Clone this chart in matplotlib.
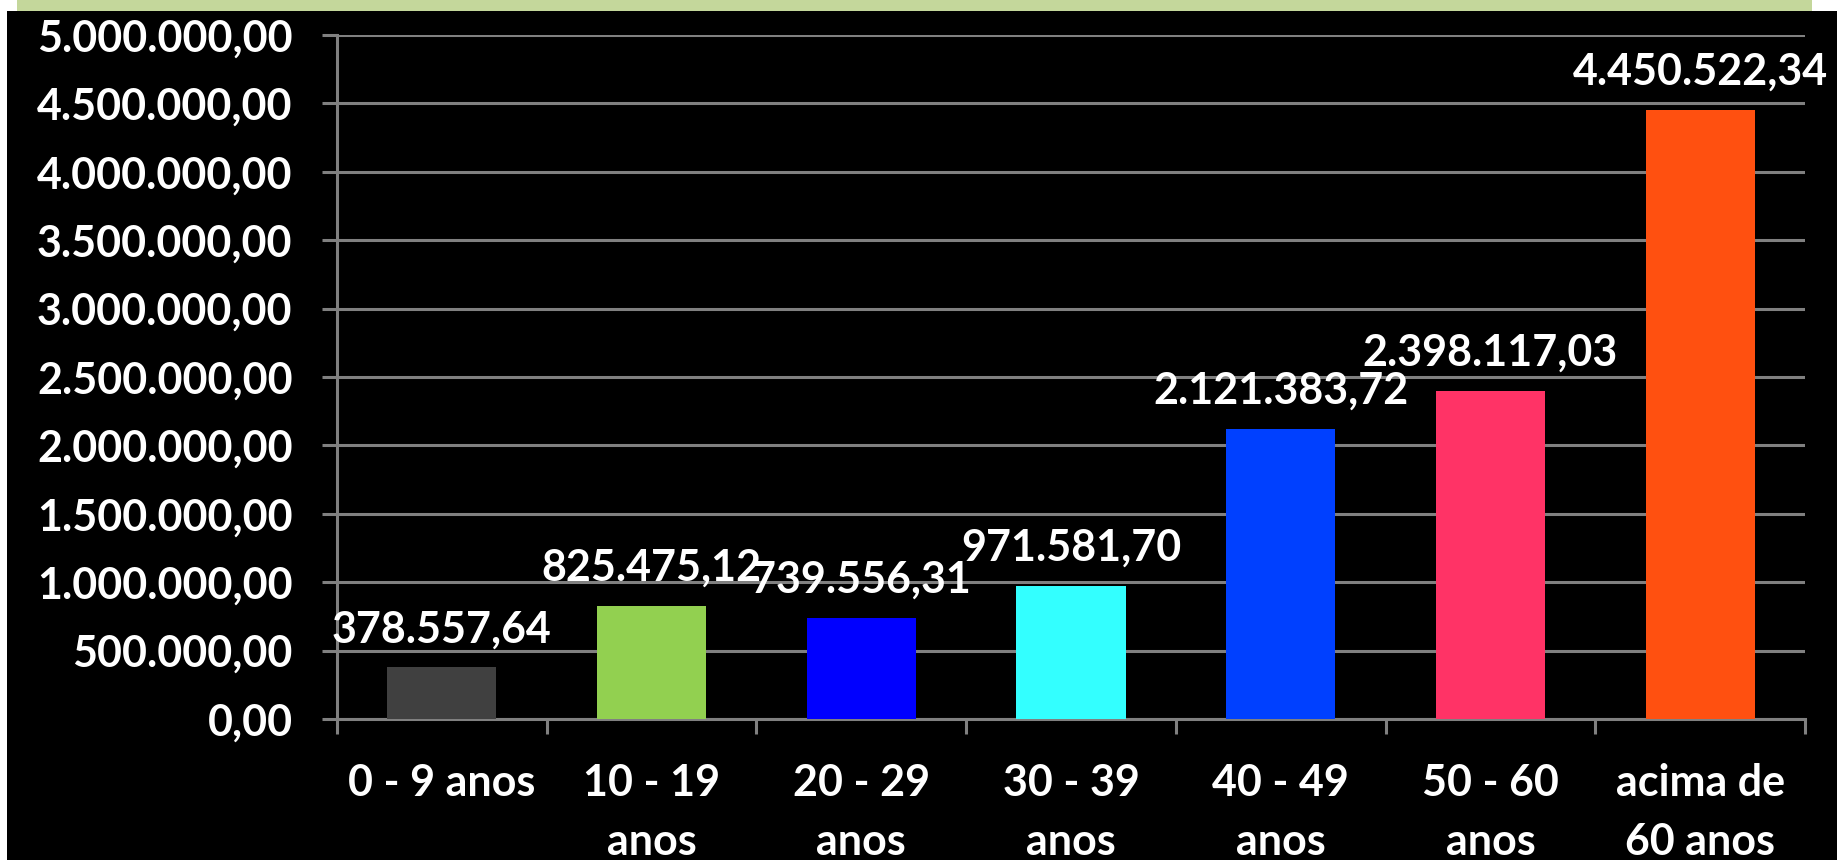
import matplotlib.pyplot as plt
from matplotlib.patches import Rectangle
import numpy as np

# dados
categorias = ['0 - 9 anos', '10 - 19\nanos', '20 - 29\nanos', '30 - 39\nanos',
              '40 - 49\nanos', '50 - 60\nanos', 'acima de\n60 anos']
valores = [378557.64, 825475.12, 739556.31, 971581.70, 2121383.72, 2398117.03, 4450522.34]
cores = ['#404040', '#92D050', '#0000FF', '#33FFFF', '#0040FF', '#FF3366', '#FF5010']
yticks = np.arange(0, 5000001, 500000)


def fmt_br(v):
    s = '{:,.2f}'.format(v)
    return s.replace(',', '#').replace('.', ',').replace('#', '.')


plt.rcParams['font.family'] = ['Lato', 'DejaVu Sans']
plt.rcParams['font.weight'] = 'bold'

fig = plt.figure(figsize=(18.37, 8.6), dpi=100, facecolor='white')
# fundo preto e faixa verde no topo
fig.patches.append(Rectangle((7 / 1837, 0), 1, 1 - 11 / 860, transform=fig.transFigure,
                             facecolor='black', edgecolor='none', zorder=0))
fig.patches.append(Rectangle((17 / 1837, 1 - 11 / 860), 1795 / 1837, 11 / 860,
                             transform=fig.transFigure, facecolor='#C4D79B',
                             edgecolor='none', zorder=0))

ax = fig.add_axes([337 / 1837, 1 - 719 / 860, (1805 - 337) / 1837, (719 - 35) / 860])
ax.set_zorder(2)
ax.set_facecolor('black')

x = np.arange(len(valores))
ax.bar(x, valores, width=0.52, color=cores, zorder=3)

for xi, v in zip(x, valores):
    ax.annotate(fmt_br(v), (xi, v), xytext=(0, 18), textcoords='offset points',
                ha='center', va='baseline', color='white', fontsize=31, fontweight='bold',
                zorder=4)

ax.set_xlim(-0.5, len(valores) - 0.5)
ax.set_ylim(0, 5000000)
ax.set_yticks(yticks)
ax.set_yticklabels([fmt_br(v) for v in yticks], color='white', fontsize=31, fontweight='bold')
ax.yaxis.grid(True, color='#808080', linewidth=2.2, zorder=0)
ax.set_axisbelow(True)

ax.set_xticks(x)
ax.set_xticklabels(categorias, color='white', fontsize=31, fontweight='bold', linespacing=1.55)
ax.set_xticks(np.arange(-0.5, len(valores), 1), minor=True)
ax.tick_params(axis='x', which='major', length=0, pad=32)
ax.tick_params(axis='x', which='minor', length=11, width=2.2, color='#808080')
ax.tick_params(axis='y', length=11, width=2.2, color='#808080', pad=21)

for s in ['top', 'right']:
    ax.spines[s].set_visible(False)
for s in ['left', 'bottom']:
    ax.spines[s].set_color('#808080')
    ax.spines[s].set_linewidth(2.2)

plt.savefig('out.png', dpi=100, facecolor=fig.get_facecolor())
